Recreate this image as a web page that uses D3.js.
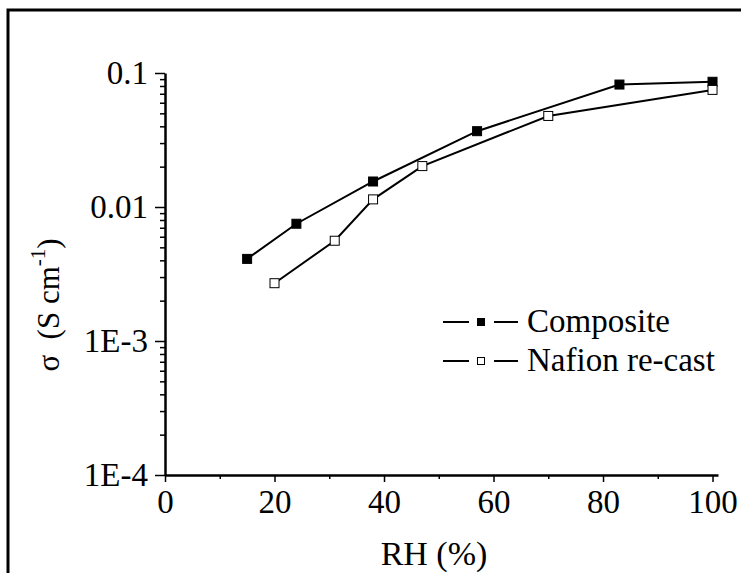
<!DOCTYPE html>
<html>
<head>
<meta charset="utf-8">
<script src="https://cdn.jsdelivr.net/npm/d3@7"></script>
<style>
  body { margin: 0; background: #fff; }
  svg { display: block; }
</style>
</head>
<body>
<svg id="chart" width="741" height="573"></svg>
<script>
// relative humidity (%) and conductivity (S/cm)
const compositeRH = [15, 24, 38, 57, 83, 100];
const compositeSigma = [0.0041, 0.0075, 0.0155, 0.0368, 0.082, 0.086];
const nafionRH = [20, 31, 38, 47, 70, 100];
const nafionSigma = [0.0027, 0.0056, 0.0114, 0.0202, 0.0478, 0.0748];

const xTicks = [0, 20, 40, 60, 80, 100];
const xMinor = [10, 30, 50, 70, 90];
const yTicks = [1e-4, 1e-3, 0.01, 0.1];
const yTickLabels = ["1E-4", "1E-3", "0.01", "0.1"];

const series = [
  { name: "Composite", xs: compositeRH, ys: compositeSigma, fill: "#000" },
  { name: "Nafion re-cast", xs: nafionRH, ys: nafionSigma, fill: "#fff" }
];

const serif = "'Liberation Serif', 'Times New Roman', serif";

const svg = d3.select("#chart");

// outer frame (only top and left edges visible in the crop)
svg.append("path")
    .attr("d", "M8,573 V10 H741")
    .attr("fill", "none")
    .attr("stroke", "#000")
    .attr("stroke-width", 3);

const x = d3.scaleLinear().domain([0, 101]).range([165, 718]);
const y = d3.scaleLog().domain([1e-4, 0.1]).range([475, 73]);

// y minor ticks: 2..9 in each decade
const yMinor = [];
for (let e = -4; e < -1; e++) {
  for (let m = 2; m <= 9; m++) yMinor.push(m * Math.pow(10, e));
}

const xAxis = svg.append("g")
    .attr("transform", "translate(0,475)")
    .call(d3.axisBottom(x).tickValues(xTicks).tickSize(7).tickSizeOuter(0).tickPadding(8));
svg.append("g")
    .attr("transform", "translate(0,475)")
    .call(d3.axisBottom(x).tickValues(xMinor).tickSize(4).tickFormat(""))
    .select(".domain").remove();

const yAxis = svg.append("g")
    .attr("transform", "translate(165,0)")
    .call(d3.axisLeft(y).tickValues(yTicks).tickSize(10).tickSizeOuter(0).tickPadding(7)
      .tickFormat((d, i) => yTickLabels[i]));
svg.append("g")
    .attr("transform", "translate(165,0)")
    .call(d3.axisLeft(y).tickValues(yMinor).tickSize(5).tickFormat(""))
    .select(".domain").remove();

svg.selectAll(".domain").attr("stroke-width", 2.5);
svg.selectAll(".tick line").attr("stroke-width", 1.5);
xAxis.selectAll("text").style("font-family", serif).style("font-size", "33px");
yAxis.selectAll("text").style("font-family", serif).style("font-size", "33px");

// axis titles
svg.append("text")
    .attr("x", 434)
    .attr("y", 565)
    .attr("text-anchor", "middle")
    .style("font-family", serif)
    .style("font-size", "34px")
    .text("RH (%)");

const yTitle = svg.append("text")
    .attr("transform", "translate(59,305) rotate(-90)")
    .attr("text-anchor", "middle")
    .style("font-family", serif)
    .style("font-size", "31px");
yTitle.append("tspan").text("σ\u00a0\u00a0(S cm");
yTitle.append("tspan").attr("dy", -14).style("font-size", "21px").text("-1");
yTitle.append("tspan").attr("dy", 14).text(")");

// lines and markers
const line = d3.line().x(d => x(d[0])).y(d => y(d[1]));
const msize = 9;

series.forEach(s => {
  const pts = s.xs.map((v, i) => [v, s.ys[i]]);
  svg.append("path")
      .datum(pts)
      .attr("d", line)
      .attr("fill", "none")
      .attr("stroke", "#000")
      .attr("stroke-width", 2);
  svg.append("g")
      .selectAll("rect")
      .data(pts)
      .enter()
      .append("rect")
      .attr("x", d => x(d[0]) - msize / 2)
      .attr("y", d => y(d[1]) - msize / 2)
      .attr("width", msize)
      .attr("height", msize)
      .attr("fill", s.fill)
      .attr("stroke", "#000")
      .attr("stroke-width", 1);
});

// legend
const legend = svg.append("g").attr("transform", "translate(443,322)");
series.forEach((s, i) => {
  const row = legend.append("g").attr("transform", `translate(0,${i * 39})`);
  row.append("line").attr("x1", 0).attr("x2", 26).attr("stroke", "#000").attr("stroke-width", 2);
  row.append("line").attr("x1", 51).attr("x2", 75).attr("stroke", "#000").attr("stroke-width", 2);
  row.append("rect")
      .attr("x", 38 - 3.5).attr("y", -3.5)
      .attr("width", 7).attr("height", 7)
      .attr("fill", s.fill)
      .attr("stroke", "#000")
      .attr("stroke-width", 1);
  row.append("text")
      .attr("x", 84)
      .attr("y", 10)
      .style("font-family", serif)
      .style("font-size", "33px")
      .text(s.name);
});
</script>
</body>
</html>
